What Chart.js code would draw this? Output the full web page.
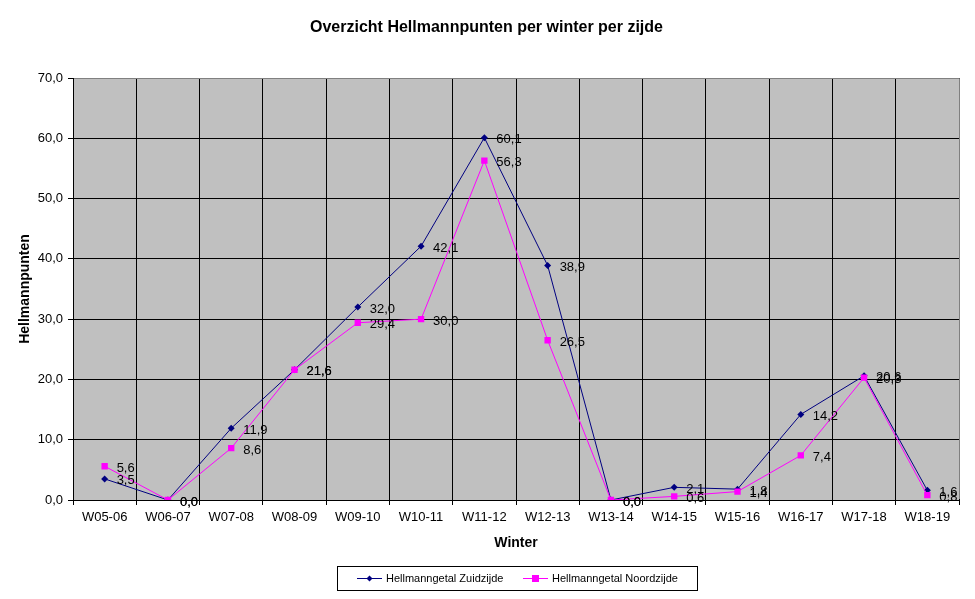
<!DOCTYPE html>
<html>
<head>
<meta charset="utf-8">
<script src="https://cdn.jsdelivr.net/npm/chart.js@4.4.0/dist/chart.umd.min.js"></script>
<style>
  html, body { margin: 0; padding: 0; background: #fff; }
  #wrap { width: 975px; height: 599px; }
</style>
</head>
<body>
<div id="wrap"><canvas id="myChart"></canvas></div>
<script>
const winters = ["W05-06", "W06-07", "W07-08", "W08-09", "W09-10", "W10-11", "W11-12",
                 "W12-13", "W13-14", "W14-15", "W15-16", "W16-17", "W17-18", "W18-19"];
const zuidzijde = [3.5, 0.0, 11.9, 21.6, 32.0, 42.1, 60.1, 38.9, 0.0, 2.1, 1.8, 14.2, 20.6, 1.6];
const noordzijde = [5.6, 0.0, 8.6, 21.6, 29.4, 30.0, 56.3, 26.5, 0.0, 0.6, 1.4, 7.4, 20.3, 0.8];
const seriesNames = ["Hellmanngetal Zuidzijde", "Hellmanngetal Noordzijde"];
const chartTitle = 'Overzicht Hellmannpunten per winter per zijde';

const FONT = "'Liberation Sans', Arial, sans-serif";
const komma = v => Number(v).toFixed(1).replace('.', ',');

// grijze plotachtergrond + titel
const plotBackground = {
    id: 'plotBackground',
    beforeDraw(chart) {
        const { ctx, chartArea: a } = chart;
        ctx.save();
        ctx.fillStyle = '#ffffff';
        ctx.fillRect(0, 0, chart.width, chart.height);
        ctx.fillStyle = '#c0c0c0';
        ctx.fillRect(a.left, a.top, a.right - a.left, a.bottom - a.top);
        ctx.fillStyle = '#000';
        ctx.font = 'bold 16px ' + FONT;
        ctx.textAlign = 'center';
        ctx.textBaseline = 'middle';
        ctx.fillText(chartTitle, chart.width / 2 - 1, 28);
        ctx.restore();
    },
    // grijze rand boven en rechts
    beforeDatasetsDraw(chart) {
        const { ctx, chartArea: a } = chart;
        ctx.save();
        ctx.strokeStyle = '#808080';
        ctx.lineWidth = 1;
        ctx.beginPath();
        ctx.moveTo(Math.round(a.left) + 1, Math.round(a.top) + 0.5);
        ctx.lineTo(Math.round(a.right) + 0.5, Math.round(a.top) + 0.5);
        ctx.lineTo(Math.round(a.right) + 0.5, Math.round(a.bottom) - 1);
        ctx.stroke();
        ctx.restore();
    }
};

// waardes naast de punten
const valueLabels = {
    id: 'valueLabels',
    afterDatasetsDraw(chart) {
        const ctx = chart.ctx;
        ctx.save();
        ctx.font = '13px ' + FONT;
        ctx.fillStyle = '#000';
        ctx.textBaseline = 'middle';
        ctx.textAlign = 'left';
        chart.data.datasets.forEach((ds, i) => {
            chart.getDatasetMeta(i).data.forEach((pt, j) => {
                ctx.fillText(komma(ds.data[j]), pt.x + 12, pt.y + 2);
            });
        });
        ctx.restore();
    }
};

// legenda in een kader, zoals in Excel
const boxLegend = {
    id: 'boxLegend',
    afterDraw(chart) {
        const ctx = chart.ctx;
        const items = [
            { x: 357, ds: chart.data.datasets[0] },
            { x: 523, ds: chart.data.datasets[1] }
        ];
        ctx.save();
        ctx.strokeStyle = '#000';
        ctx.lineWidth = 1;
        ctx.strokeRect(337.5, 566.5, 360, 24);
        ctx.font = '11px ' + FONT;
        ctx.textBaseline = 'middle';
        items.forEach(it => {
            const y = 578.5;
            ctx.strokeStyle = it.ds.borderColor;
            ctx.beginPath();
            ctx.moveTo(it.x, y);
            ctx.lineTo(it.x + 25, y);
            ctx.stroke();
            ctx.fillStyle = it.ds.backgroundColor;
            const cx = it.x + 12.5;
            if (it.ds.pointStyle === 'rect') {
                ctx.fillRect(cx - 3.5, y - 3.5, 7, 7);
            } else {
                ctx.beginPath();
                ctx.moveTo(cx, y - 3);
                ctx.lineTo(cx + 3, y);
                ctx.lineTo(cx, y + 3);
                ctx.lineTo(cx - 3, y);
                ctx.closePath();
                ctx.fill();
            }
            ctx.fillStyle = '#000';
            ctx.fillText(it.ds.label, it.x + 29, y);
        });
        ctx.restore();
    }
};

const ctx = document.getElementById('myChart').getContext('2d');

const myChart = new Chart(ctx, {
    type: 'line',
    data: {
        labels: winters,
        datasets: [{
            label: seriesNames[0],
            data: zuidzijde,
            borderColor: '#000080',
            backgroundColor: '#000080',
            borderWidth: 1,
            pointStyle: 'rectRot',
            pointRadius: 3.5,
            pointBorderWidth: 0,
            tension: 0,
            order: 1
        }, {
            label: seriesNames[1],
            data: noordzijde,
            borderColor: '#ff00ff',
            backgroundColor: '#ff00ff',
            borderWidth: 1,
            pointStyle: 'rect',
            pointRadius: 4.5,
            pointBorderWidth: 0,
            tension: 0,
            order: 0
        }]
    },
    options: {
        responsive: true,
        maintainAspectRatio: false,
        animation: false,
        devicePixelRatio: 1,
        layout: { padding: { left: 0, right: 16, top: 78, bottom: 39 } },
        plugins: {
            legend: { display: false },
            tooltip: { enabled: false },
            title: { display: false }
        },
        scales: {
            x: {
                offset: true,
                grid: {
                    color: ctx => ctx.index === winters.length ? '#808080' : '#000',
                    lineWidth: 1, offset: true, tickLength: 5, tickColor: '#000'
                },
                border: { color: '#000', width: 1 },
                ticks: { color: '#000', font: { family: FONT, size: 13 }, maxRotation: 0, autoSkip: false, padding: 5 },
                title: { display: true, text: 'Winter', color: '#000', font: { family: FONT, size: 14, weight: 'bold' }, padding: { top: 0, bottom: 8 } },
                afterFit(scale) { scale.height = 60; }
            },
            y: {
                min: 0,
                max: 70,
                grid: {
                    color: ctx => ctx.tick && ctx.tick.value === 70 ? '#808080' : '#000',
                    lineWidth: 1, tickLength: 5, tickColor: '#000'
                },
                border: { color: '#000', width: 1 },
                ticks: { stepSize: 10, color: '#000', font: { family: FONT, size: 13 }, padding: 5, callback: v => komma(v) },
                title: { display: true, text: 'Hellmannpunten', color: '#000', font: { family: FONT, size: 14, weight: 'bold' }, padding: { top: 17, bottom: 0 } },
                afterFit(scale) { scale.width = 73; }
            }
        }
    },
    plugins: [plotBackground, valueLabels, boxLegend]
});
</script>
</body>
</html>
